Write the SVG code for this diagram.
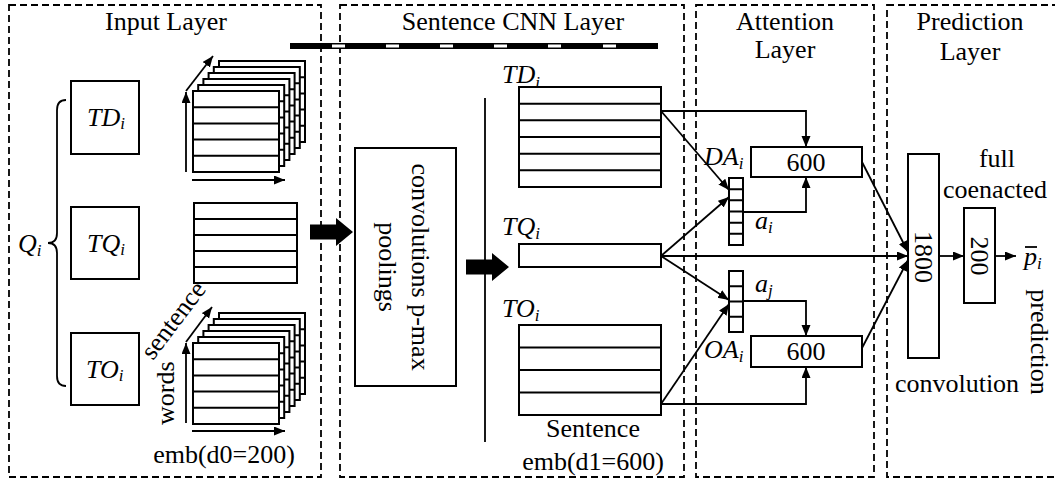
<svg xmlns="http://www.w3.org/2000/svg" width="1055" height="481" viewBox="0 0 1055 481">
  <style>
    .t { font-family: 'Liberation Serif', 'DejaVu Serif', 'Times New Roman', serif; font-size: 26px; fill: #000; }
    .it { font-style: italic; }
    .sub { font-size: 17px; }
    .frame { fill: none; stroke: #000; stroke-width: 1.8; stroke-dasharray: 7 4; }
    .box { fill: #fff; stroke: #000; stroke-width: 2; }
    .row { stroke: #000; stroke-width: 2; }
    .ln { fill: none; stroke: #000; stroke-width: 1.8; }
    .arr { fill: none; stroke: #000; stroke-width: 1.8; marker-end: url(#ah); }
  </style>
  <defs>
    <marker id="ah" markerUnits="userSpaceOnUse" markerWidth="12" markerHeight="10" refX="11" refY="4.5" orient="auto">
      <path d="M0,0 L11,4.5 L0,9 z" fill="#000"/>
    </marker>
    <!-- one word-embedding slice: 86x81, five rows -->
    <g id="slice">
      <rect class="box" x="0" y="0" width="86" height="81"/>
      <path class="row" d="M0,16.2 H86 M0,32.4 H86 M0,48.6 H86 M0,64.8 H86"/>
    </g>
  </defs>

  <rect width="1055" height="481" fill="#fff"/>

  <!-- layer frames -->
  <g id="frames">
    <rect class="frame" x="9" y="5" width="312" height="472"/>
    <rect class="frame" x="340" y="5" width="344" height="472"/>
    <rect class="frame" x="696" y="5" width="178" height="472"/>
    <rect class="frame" x="887" y="5" width="172" height="472"/>
    <text class="t" x="166" y="30" text-anchor="middle" font-family="Liberation Serif, serif">Input Layer</text>
    <text class="t" x="513" y="30" text-anchor="middle">Sentence CNN Layer</text>
    <text class="t" x="785" y="30" text-anchor="middle">Attention</text>
    <text class="t" x="785" y="58" text-anchor="middle">Layer</text>
    <text class="t" x="970" y="30" text-anchor="middle">Prediction</text>
    <text class="t" x="970" y="60" text-anchor="middle">Layer</text>
  </g>

  <!-- dashed divider bar -->
  <g id="bar">
    <rect x="290" y="43" width="368" height="6" fill="#000"/>
    <g fill="#fff">
      <rect x="332" y="44.5" width="13" height="3"/>
      <rect x="386" y="44.5" width="13" height="3"/>
      <rect x="440" y="44.5" width="13" height="3"/>
      <rect x="494" y="44.5" width="13" height="3"/>
      <rect x="548" y="44.5" width="13" height="3"/>
      <rect x="603" y="44.5" width="13" height="3"/>
    </g>
  </g>

  <!-- input question parts -->
  <g id="q">
    <path class="ln" d="M66,100 Q57,100 57,110 L57,233 Q57,243 48,243 Q57,243 57,253 L57,376 Q57,386 66,386"/>
    <text class="t it" x="18" y="252">Q<tspan class="sub" dy="4">i</tspan></text>
  </g>
  <g id="td-in">
    <rect class="box" x="71" y="81" width="68" height="73"/>
    <text class="t it" x="87" y="126">TD<tspan class="sub" dy="3">i</tspan></text>
  </g>
  <g id="tq-in">
    <rect class="box" x="71" y="207" width="68" height="72"/>
    <text class="t it" x="87" y="252">TQ<tspan class="sub" dy="3">i</tspan></text>
  </g>
  <g id="to-in">
    <rect class="box" x="71" y="333" width="68" height="72"/>
    <text class="t it" x="86" y="378">TO<tspan class="sub" dy="3">i</tspan></text>
  </g>

  <!-- embedding tensors -->
  <g id="td-emb">
    <use href="#slice" x="219" y="61"/>
    <use href="#slice" x="213.8" y="67"/>
    <use href="#slice" x="208.6" y="73"/>
    <use href="#slice" x="203.4" y="79"/>
    <use href="#slice" x="198.2" y="85"/>
    <use href="#slice" x="193" y="91"/>
    <path class="arr" d="M186,172 V92"/>
    <path class="arr" d="M186,91 L213,56"/>
    <path class="arr" d="M192,180 H285"/>
  </g>
  <g id="tq-emb">
    <rect class="box" x="194" y="203" width="103" height="80"/>
    <path class="row" d="M194,219 H297 M194,235 H297 M194,251 H297 M194,267 H297"/>
  </g>
  <g id="to-emb">
    <use href="#slice" x="219" y="313"/>
    <use href="#slice" x="213.8" y="319"/>
    <use href="#slice" x="208.6" y="325"/>
    <use href="#slice" x="203.4" y="331"/>
    <use href="#slice" x="198.2" y="337"/>
    <use href="#slice" x="193" y="343"/>
    <path class="arr" d="M186,423 V343"/>
    <path class="arr" d="M186,342 L212,307"/>
    <path class="arr" d="M192,431 H285"/>
    <text class="t" transform="translate(174,425) rotate(-90)">words</text>
    <text class="t" transform="translate(153,361) rotate(-53)">sentence</text>
    <text class="t" x="224" y="463" text-anchor="middle">emb(d0=200)</text>
  </g>

  <!-- block arrows -->
  <g id="flow">
    <polygon points="310,224.5 336,224.5 336,218 353,232 336,246 336,239.5 310,239.5" fill="#000"/>
    <polygon points="466,259.5 492,259.5 492,253 509,267 492,281 492,274.5 466,274.5" fill="#000"/>
  </g>

  <!-- sentence CNN -->
  <g id="cnn">
    <rect class="box" x="355" y="148" width="101" height="238"/>
    <text class="t" text-anchor="middle" transform="translate(412,267) rotate(90)">convolutions p-max</text>
    <text class="t" text-anchor="middle" transform="translate(379,267) rotate(90)">poolings</text>
    <line class="ln" x1="485" y1="98" x2="485" y2="442"/>
  </g>

  <!-- sentence embeddings -->
  <g id="td-sent">
    <text class="t it" x="502" y="83">TD<tspan class="sub" dy="5">i</tspan></text>
    <rect class="box" x="519" y="87" width="142" height="100"/>
    <path class="row" d="M519,103.7 H661 M519,120.3 H661 M519,137 H661 M519,153.7 H661 M519,170.3 H661"/>
  </g>
  <g id="tq-sent">
    <text class="t it" x="502" y="235">TQ<tspan class="sub" dy="4">i</tspan></text>
    <rect class="box" x="519" y="244" width="142" height="23"/>
  </g>
  <g id="to-sent">
    <text class="t it" x="502" y="317">TO<tspan class="sub" dy="4">i</tspan></text>
    <rect class="box" x="519" y="325" width="142" height="90"/>
    <path class="row" d="M519,347.5 H661 M519,370 H661 M519,392.5 H661"/>
    <text class="t" x="593" y="437" text-anchor="middle">Sentence</text>
    <text class="t" x="593" y="470" text-anchor="middle">emb(d1=600)</text>
  </g>

  <!-- attention -->
  <g id="ai">
    <rect class="box" x="729" y="178" width="14" height="67"/>
    <path class="row" d="M729,189.2 H743 M729,200.3 H743 M729,211.5 H743 M729,222.7 H743 M729,233.8 H743"/>
    <text class="t it" x="755" y="229">a<tspan class="sub" dy="4">i</tspan></text>
  </g>
  <g id="aj">
    <rect class="box" x="729" y="271" width="14" height="61"/>
    <path class="row" d="M729,286.2 H743 M729,301.5 H743 M729,316.7 H743"/>
    <text class="t it" x="755" y="292">a<tspan class="sub" dy="4">j</tspan></text>
  </g>
  <g id="da">
    <rect class="box" x="751" y="147" width="111" height="30"/>
    <text class="t" x="806" y="171" text-anchor="middle">600</text>
    <text class="t it" x="704" y="165">DA<tspan class="sub" dy="4">i</tspan></text>
  </g>
  <g id="oa">
    <rect class="box" x="751" y="336" width="111" height="31"/>
    <text class="t" x="806" y="360" text-anchor="middle">600</text>
    <text class="t it" x="704" y="358">OA<tspan class="sub" dy="4">i</tspan></text>
  </g>

  <!-- prediction -->
  <g id="conv">
    <rect class="box" x="908" y="154" width="31" height="204"/>
    <text class="t" text-anchor="middle" transform="translate(915,257) rotate(90)">1800</text>
    <text class="t" x="957" y="392" text-anchor="middle">convolution</text>
  </g>
  <g id="fc">
    <rect class="box" x="964" y="208" width="31" height="95"/>
    <text class="t" text-anchor="middle" transform="translate(971,256) rotate(90)">200</text>
    <text class="t" x="997" y="167" text-anchor="middle">full</text>
    <text class="t" x="995" y="198" text-anchor="middle">coenacted</text>
  </g>
  <g id="out">
    <text class="t it" x="1024" y="265">p<tspan class="sub" dy="4">i</tspan></text>
    <line class="ln" x1="1025" y1="247" x2="1037" y2="247"/>
    <text class="t" text-anchor="middle" transform="translate(1031,342) rotate(90)">prediction</text>
  </g>

  <!-- connectors -->
  <g id="connectors">
    <path class="arr" d="M661,111 H806 V147"/>
    <path class="arr" d="M661,111 L729,190"/>
    <path class="arr" d="M661,256 L729,197"/>
    <path class="arr" d="M743,212 H806 V177"/>
    <path class="arr" d="M661,256 H908"/>
    <path class="arr" d="M661,256 L729,300"/>
    <path class="arr" d="M661,404 L729,304"/>
    <path class="arr" d="M743,301 H806 V336"/>
    <path class="arr" d="M661,404 H806 V367"/>
    <path class="arr" d="M862,162 L908,252"/>
    <path class="arr" d="M862,348 L908,260"/>
    <path class="arr" d="M939,256 H964"/>
    <path class="arr" d="M995,256 H1016"/>
  </g>
</svg>
